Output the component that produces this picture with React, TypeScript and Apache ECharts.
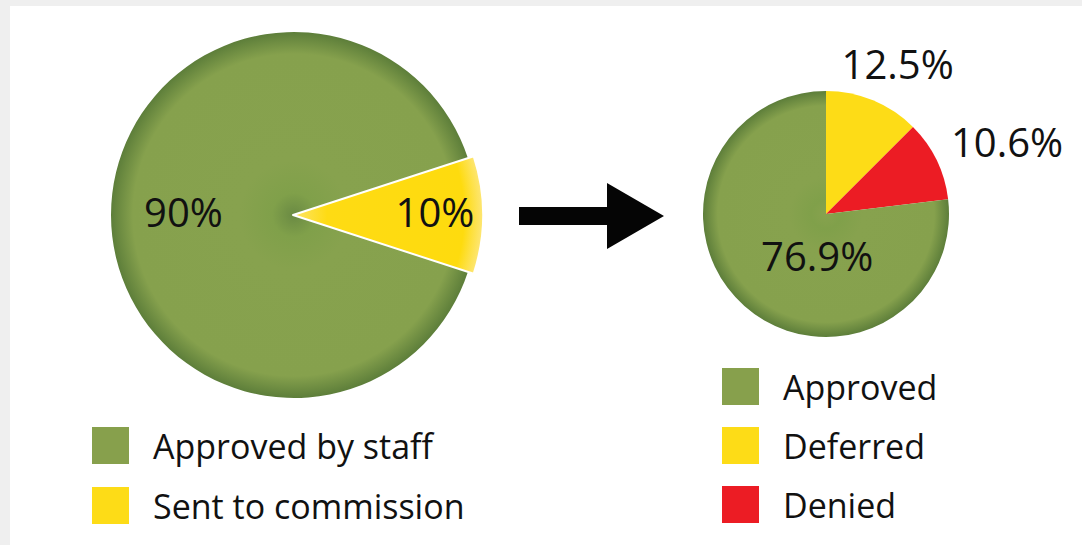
import React, { useEffect, useRef } from 'react';
import * as echarts from 'echarts';

// ---- data ----
const leftNames = ['Approved by staff', 'Sent to commission'];
const leftValues = [90, 10];
const rightNames = ['Approved', 'Deferred', 'Denied'];
const rightValues = [76.9, 12.5, 10.6];
// right pie is drawn clockwise from the top in this order (indexes into the arrays above)
const rightOrder = [1, 2, 0];

// ---- styles ----
const FONT = 'Open Sans';
const GREEN = '#87a04c';
const YELLOW = '#fddc17';
const RED = '#ec1c24';
const TEXT = '#111111';

const LEFT_C = [294, 215];
const LEFT_R = 183;
const SLICE_R = 190;
const RIGHT_C = [826, 214];
const RIGHT_R = 123;

const greenFill = (cx: number, cy: number, r: number, dark: string) => ({
  type: 'radial', x: cx, y: cy, r, global: true,
  colorStops: [
    { offset: 0, color: dark },
    { offset: 0.12, color: '#80a04a' },
    { offset: 0.3, color: '#87a24e' },
    { offset: 0.88, color: '#86a14d' },
    { offset: 1, color: '#5d7e3a' },
  ],
});
const yellowGlow = {
  type: 'radial', x: LEFT_C[0] - 1, y: LEFT_C[1], r: SLICE_R, global: true,
  colorStops: [
    { offset: 0, color: '#fde56a' },
    { offset: 0.18, color: '#fedb14' },
    { offset: 0.9, color: '#fedb0e' },
    { offset: 1, color: '#fde675' },
  ],
};

// label nudges (dx, dy) from the pie's default "inside" label anchor
const leftGreenNudge = [-16, -4];
const leftYellowNudge = [44, -4];
const rightNudges = [
  [47, -91],
  [123, -44],
  [34, -7],
];

function buildOption() {
  const total = leftValues.reduce((a, b) => a + b, 0);
  const yellowSpan = (360 * leftValues[1]) / total;
  const yStart = yellowSpan / 2;
  const yEnd = -yellowSpan / 2;

  const rightColors: Record<string, any> = {
    Approved: greenFill(RIGHT_C[0], RIGHT_C[1], RIGHT_R, '#87a24e'),
    Deferred: YELLOW,
    Denied: RED,
  };
  const legendColors: Record<string, string> = {
    'Approved by staff': GREEN,
    'Sent to commission': YELLOW,
    Approved: GREEN,
    Deferred: YELLOW,
    Denied: RED,
  };

  const labelBase = {
    show: true,
    position: 'inside',
    formatter: '{c}%',
    fontFamily: FONT,
    fontSize: 40,
    color: TEXT,
  };

  const legendBase = {
    orient: 'vertical',
    icon: 'rect',
    itemWidth: 37,
    itemHeight: 37,
    padding: 0,
    selectedMode: false,
    textStyle: { fontFamily: FONT, fontSize: 34, color: TEXT, padding: [0, 0, 0, 19] },
  };

  return {
    animation: false,
    backgroundColor: '#efefef',
    graphic: [
      {
        type: 'rect',
        shape: { x: 10, y: 6, width: 1100, height: 600 },
        style: { fill: '#ffffff' },
        z: -10,
        silent: true,
      },
      {
        type: 'polygon',
        shape: {
          points: [
            [519, 207], [607, 207], [607, 183], [664, 216], [607, 249], [607, 225], [519, 225],
          ],
        },
        style: { fill: '#050505' },
        silent: true,
      },
    ],
    legend: [
      {
        ...legendBase,
        left: 92,
        top: 427,
        itemGap: 23,
        data: leftNames.map((n) => ({ name: n, itemStyle: { color: legendColors[n], borderWidth: 0 } })),
      },
      {
        ...legendBase,
        left: 722,
        top: 368,
        itemGap: 22,
        data: rightNames.map((n) => ({ name: n, itemStyle: { color: legendColors[n], borderWidth: 0 } })),
      },
    ],
    series: [
      {
        type: 'pie',
        name: 'left-main',
        center: LEFT_C,
        radius: LEFT_R,
        startAngle: yEnd,
        endAngle: yEnd - (360 - yellowSpan),
        silent: true,
        avoidLabelOverlap: false,
        label: labelBase,
        labelLine: { show: false },
        labelLayout: () => ({ dx: leftGreenNudge[0], dy: leftGreenNudge[1] }),
        data: [
          {
            name: leftNames[0],
            value: leftValues[0],
            itemStyle: { color: greenFill(LEFT_C[0], LEFT_C[1], LEFT_R, '#6a8a43') },
          },
        ],
      },
      {
        type: 'pie',
        name: 'left-slice',
        center: [LEFT_C[0] - 1, LEFT_C[1]],
        radius: SLICE_R,
        startAngle: yStart,
        endAngle: yEnd,
        silent: true,
        avoidLabelOverlap: false,
        label: labelBase,
        labelLine: { show: false },
        labelLayout: () => ({ dx: leftYellowNudge[0], dy: leftYellowNudge[1] }),
        data: [
          {
            name: leftNames[1],
            value: leftValues[1],
            itemStyle: { color: yellowGlow, borderColor: '#ffffff', borderWidth: 2 },
          },
        ],
      },
      {
        type: 'pie',
        name: 'right',
        center: RIGHT_C,
        radius: RIGHT_R,
        startAngle: 90,
        silent: true,
        avoidLabelOverlap: false,
        label: labelBase,
        labelLine: { show: false },
        labelLayout: (p: any) => ({ dx: rightNudges[p.dataIndex][0], dy: rightNudges[p.dataIndex][1] }),
        data: rightOrder.map((i) => ({
          name: rightNames[i],
          value: rightValues[i],
          itemStyle: { color: rightColors[rightNames[i]] },
        })),
      },
    ],
  };
}

export default function App() {
  const ref = useRef<HTMLDivElement>(null);
  useEffect(() => {
    document.body.style.margin = '0';
    const chart = echarts.init(ref.current as HTMLDivElement, null, { renderer: 'svg' });
    chart.setOption(buildOption() as any);
    return () => chart.dispose();
  }, []);
  return <div ref={ref} style={{ width: 1082, height: 545 }} />;
}
